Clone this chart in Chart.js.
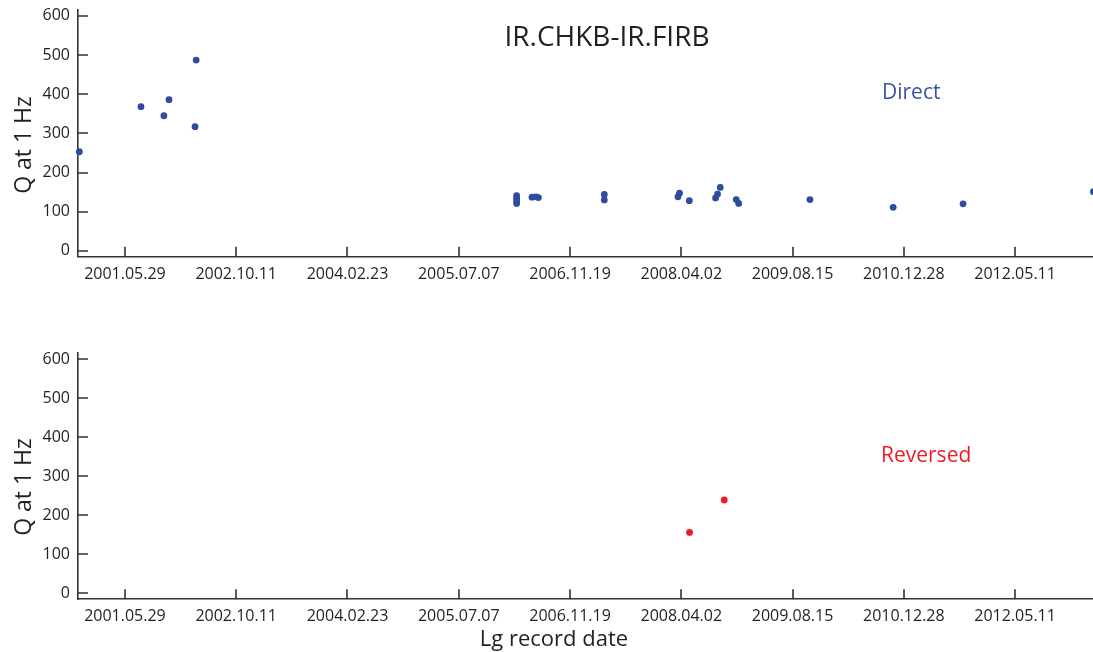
<!DOCTYPE html>
<html><head><meta charset="utf-8">
<script src="https://cdn.jsdelivr.net/npm/chart.js@4.4.1/dist/chart.umd.min.js"></script>
<style>
html,body{margin:0;padding:0;background:#fff;width:1093px;height:652px;overflow:hidden}
.wrap{position:absolute;left:0;width:1093px}
#w1{top:0;height:300px}
#w2{top:300px;height:352px}
canvas{display:block}
</style></head><body>
<div class="wrap" id="w1"><canvas id="c1" width="1093" height="300"></canvas></div>
<div class="wrap" id="w2"><canvas id="c2" width="1093" height="352"></canvas></div>
<script>
// ---- data ----
const X_TICK_LABELS = ['2001.05.29','2002.10.11','2004.02.23','2005.07.07','2006.11.19','2008.04.02','2009.08.15','2010.12.28','2012.05.11'];
const X_MIN = '2000.10.30';
const X_MAX = '2013.04.26';
const Y_TICKS = [0,100,200,300,400,500,600];
const Y_MIN = -15;
const Y_MAX = 615;

const DIRECT_DATES = ['2000.11.05','2001.08.09','2001.11.20','2001.12.13','2002.04.14','2002.04.09',
  '2006.03.24','2006.03.24','2006.03.24','2006.03.24','2006.06.01','2006.06.19','2006.06.30',
  '2007.04.22','2007.04.22','2008.03.25','2008.03.18','2008.05.08','2008.09.24','2008.09.12','2008.09.03',
  '2008.12.05','2008.12.16','2009.11.01','2010.11.10','2011.09.20','2013.04.28'];
const DIRECT_Q = [253,368,345,386,487,317,
  141,134,127,121,137,138,136,
  144,130,147,138,128,162,145,135,
  131,121,131,111,120,151];

const REVERSED_DATES = ['2008.05.09','2008.10.12'];
const REVERSED_Q = [156,239];

const TITLE_TEXT = 'IR.CHKB-IR.FIRB';
const DIRECT_LABEL = 'Direct';
const REVERSED_LABEL = 'Reversed';
const Y_TITLE = 'Q at 1 Hz';
const X_TITLE = 'Lg record date';

// ---- styles ----
const BLUE = '#2f4b9e';
const BLUE_TEXT = '#3a52a8';
const RED = '#ee1d25';
const TEXT = '#231f20';
const AXIS = '#333333';
const FONT = "'Open Sans', 'Noto Sans', sans-serif";

function dayNum(s){ const p = s.split(/[.\-]/).map(Number); return Date.UTC(p[0],p[1]-1,p[2])/86400000; }
const X_TICK_VALUES = X_TICK_LABELS.map(dayNum);

const inwardTicks = {
  id:'inwardTicks',
  afterDraw(chart){
    const {ctx, chartArea:a, scales:{x,y}} = chart;
    ctx.save();
    ctx.strokeStyle = AXIS; ctx.lineWidth = 1.6;
    ctx.beginPath();
    x.ticks.forEach(t=>{ const px = Math.round(x.getPixelForValue(t.value)); ctx.moveTo(px,a.bottom); ctx.lineTo(px,a.bottom-10); });
    y.ticks.forEach(t=>{ const py = Math.round(y.getPixelForValue(t.value)); ctx.moveTo(a.left,py); ctx.lineTo(a.left+10,py); });
    ctx.stroke();
    ctx.restore();
  }
};

function textPlugin(items){
  return {
    id:'texts',
    afterDraw(chart){
      const ctx = chart.ctx;
      items.forEach(it=>{
        ctx.save();
        ctx.font = it.font;
        ctx.fillStyle = it.color;
        ctx.textAlign = it.align || 'left';
        ctx.textBaseline = 'alphabetic';
        ctx.translate(it.x, it.y);
        if (it.rot) ctx.rotate(it.rot);
        ctx.fillText(it.text, 0, 0);
        ctx.restore();
      });
    }
  };
}

function makeChart(canvasId, dates, values, color, topPad, xHeight, texts){
  const pts = dates.map((d,i)=>({x:dayNum(d), y:values[i]}));
  return new Chart(document.getElementById(canvasId), {
    type:'scatter',
    data:{ datasets:[{ data:pts, backgroundColor:color, borderWidth:0, pointRadius:3.4, pointHoverRadius:3.4, clip:false }]},
    options:{
      responsive:false, animation:false, devicePixelRatio:1,
      layout:{ autoPadding:false, padding:{ top:topPad, left:0, right:0, bottom:0 } },
      plugins:{ legend:{display:false}, tooltip:{enabled:false} },
      scales:{
        x:{
          type:'linear', min:dayNum(X_MIN), max:dayNum(X_MAX),
          afterBuildTicks(s){ s.ticks = X_TICK_VALUES.map(v=>({value:v})); },
          afterFit(s){ s.height = xHeight; },
          grid:{ display:true, drawOnChartArea:false, drawTicks:true, tickLength:8, tickColor:'rgba(0,0,0,0)' },
          border:{ display:true, color:AXIS, width:1.6 },
          ticks:{ padding:0, color:TEXT, font:{family:FONT, size:16}, maxRotation:0, autoSkip:false,
            callback(v){ const i = X_TICK_VALUES.indexOf(v); return i>=0 ? X_TICK_LABELS[i] : ''; } }
        },
        y:{
          type:'linear', min:Y_MIN, max:Y_MAX,
          afterBuildTicks(s){ s.ticks = Y_TICKS.map(v=>({value:v})); },
          afterFit(s){ s.width = 78; },
          grid:{ display:true, drawOnChartArea:false, drawTicks:true, tickLength:8, tickColor:'rgba(0,0,0,0)' },
          border:{ display:true, color:AXIS, width:1.6 },
          ticks:{ padding:0, color:TEXT, font:{family:FONT, size:16} }
        }
      }
    },
    plugins:[inwardTicks, textPlugin(texts)]
  });
}

makeChart('c1', DIRECT_DATES, DIRECT_Q, BLUE, 10, 43.3, [
  {text:TITLE_TEXT, x:607, y:46, font:`28px ${FONT}`, color:TEXT, align:'center'},
  {text:DIRECT_LABEL, x:882, y:99, font:`21px ${FONT}`, color:BLUE_TEXT},
  {text:Y_TITLE, x:31, y:145, font:`23px ${FONT}`, color:TEXT, align:'center', rot:-Math.PI/2}
]);
makeChart('c2', REVERSED_DATES, REVERSED_Q, RED, 53.1, 52.8, [
  {text:REVERSED_LABEL, x:881, y:162, font:`21px ${FONT}`, color:RED},
  {text:Y_TITLE, x:31, y:187, font:`23px ${FONT}`, color:TEXT, align:'center', rot:-Math.PI/2},
  {text:X_TITLE, x:554, y:346, font:`22px ${FONT}`, color:TEXT, align:'center'}
]);
</script>
</body></html>
